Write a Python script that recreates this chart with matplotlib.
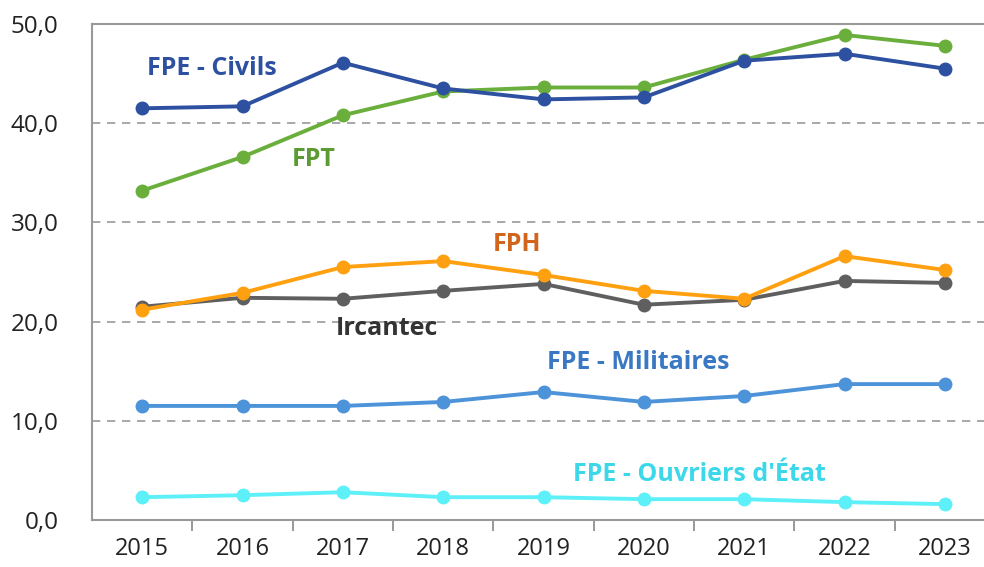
import matplotlib.pyplot as plt

# data
years = ["2015", "2016", "2017", "2018", "2019", "2020", "2021", "2022", "2023"]
civils = [41.5, 41.7, 46.1, 43.5, 42.4, 42.6, 46.3, 47.0, 45.5]
fpt = [33.2, 36.6, 40.8, 43.2, 43.6, 43.6, 46.4, 48.9, 47.8]
fph = [21.2, 22.9, 25.5, 26.1, 24.7, 23.1, 22.3, 26.6, 25.2]
ircantec = [21.5, 22.4, 22.3, 23.1, 23.8, 21.7, 22.2, 24.1, 23.9]
militaires = [11.5, 11.5, 11.5, 11.9, 12.9, 11.9, 12.5, 13.7, 13.7]
ouvriers = [2.3, 2.5, 2.8, 2.3, 2.3, 2.1, 2.1, 1.8, 1.6]
yticks = [0, 10, 20, 30, 40, 50]

plt.rcParams['font.family'] = ['Open Sans', 'DejaVu Sans']

fig = plt.figure(figsize=(9.84, 5.67), dpi=100)
ax = fig.add_axes([92/984, 47/567, 1 - 92/984, 496/567])

x = list(range(len(years)))
series = [
    (ircantec, "#5f5f5f", "Ircantec", "#333333", 2.44, 19.3),
    (fph, "#ffa010", "FPH", "#d2651c", 3.74, 27.8),
    (militaires, "#4d93d9", "FPE - Militaires", "#3a78c4", 4.94, 15.9),
    (ouvriers, "#5ef0f8", "FPE - Ouvriers d'État", "#3cd8ea", 5.55, 4.6),
    (fpt, "#6aae3c", "FPT", "#5c9a32", 1.71, 36.3),
    (civils, "#2d51a0", "FPE - Civils", "#2d51a0", 0.69, 45.5),
]
for vals, col, lab, tcol, tx, ty in series:
    ax.plot(x, vals, color=col, lw=2.8, marker="o", ms=9, zorder=3)
    ax.text(tx, ty, lab, color=tcol, fontsize=18, fontweight="bold",
            ha="center", va="center")

ax.set_xlim(-0.5, 8.39)
ax.set_ylim(0, 50)
ax.set_yticks(yticks)
ax.set_yticklabels([f"{v:.1f}".replace(".", ",") for v in yticks], fontsize=17.5, color="#222222")
ax.set_xticks(x)
ax.set_xticklabels(years, fontsize=17, color="#222222")
ax.tick_params(axis="y", length=0, pad=24)
ax.tick_params(axis="x", length=0, pad=12)
ax.set_xticks([i + 0.5 for i in range(len(years) - 1)], minor=True)
ax.tick_params(axis="x", which="minor", length=8, width=1.2, color="#888888")

for v in yticks[1:-1]:
    ax.axhline(v, color="#999999", lw=1.2, ls=(0, (5, 4)), zorder=1)

for s in ["left", "bottom", "top"]:
    ax.spines[s].set_color("#999999")
    ax.spines[s].set_linewidth(1.5)
ax.spines["right"].set_visible(False)

fig.savefig("out.png", dpi=100)
